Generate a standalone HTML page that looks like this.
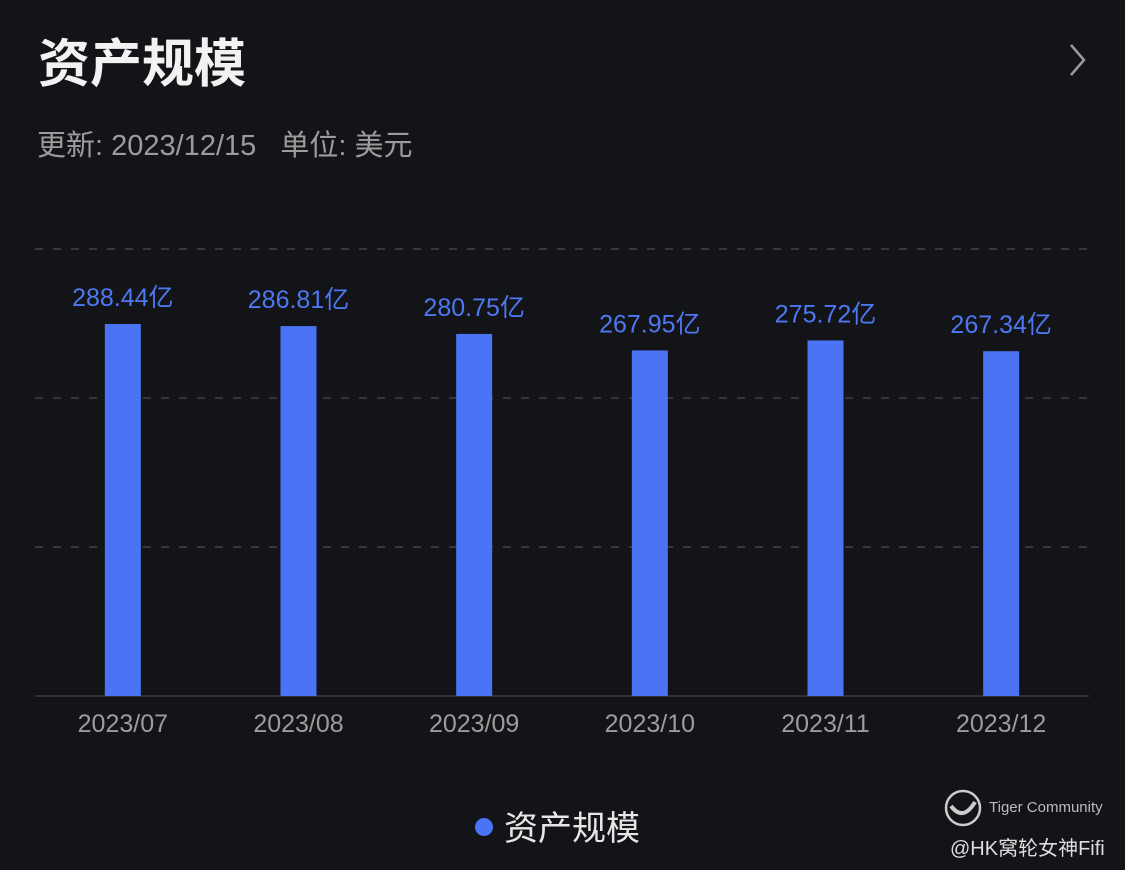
<!DOCTYPE html>
<html><head><meta charset="utf-8"><style>
body{margin:0;width:1125px;height:870px;background:#131417;overflow:hidden;font-family:"Liberation Sans","Noto Sans CJK SC",sans-serif;position:relative}
.t{position:absolute;color:#fff}
</style></head><body>
<div class="t" style="left:38px;top:22px;font-size:52px;font-weight:bold;color:#f2f2f2">资产规模</div>
<svg style="position:absolute;left:1066px;top:42px" width="24" height="36"><path d="M5 3 L18 18 L5 33" stroke="#9a9a9a" stroke-width="2.5" fill="none"/></svg>
<div class="t" style="left:37px;top:122px;font-size:29px;color:#9c9c9c">更新: 2023/12/15&nbsp;&nbsp;&nbsp;单位: 美元</div>
<svg id="chart" style="position:absolute;left:0;top:0" width="1125" height="870"></svg>
<div style="position:absolute;left:475px;top:801px;font-size:34px;color:#e6e6e6;font-family:'Liberation Sans','Noto Sans CJK SC',sans-serif"><span style="display:inline-block;width:18px;height:18px;border-radius:50%;background:#4a74f5;margin-right:11px;vertical-align:4px"></span>资产规模</div>
<svg style="position:absolute;left:943px;top:788px" width="40" height="40"><circle cx="20" cy="20" r="17" stroke="#ccc" stroke-width="2.5" fill="none"/><path d="M8 18 Q20 34 32 14" stroke="#ccc" stroke-width="4" fill="none"/></svg>
<div class="t" style="left:989px;top:799px;font-size:15px;color:#bbb">Tiger Community</div>
<div class="t" style="left:950px;top:832px;font-size:20px;color:#ddd">@HK窝轮女神Fifi</div>
<script>
const categories=["2023/07","2023/08","2023/09","2023/10","2023/11","2023/12"];
const values=[288.44,286.81,280.75,267.95,275.72,267.34];
const labels=["288.44亿","286.81亿","280.75亿","267.95亿","275.72亿","267.34亿"];
const yMax=346.6;
const svg=document.getElementById('chart');
const NS="http://www.w3.org/2000/svg";
const L=35,R=1089,B=696,T=249;
const bw=(R-L)/categories.length;
const y=v=>B-(v/yMax)*(B-T);
const x=i=>L+bw*(i+0.5);
function mk(t,a){const e=document.createElementNS(NS,t);for(const k in a)e.setAttribute(k,a[k]);svg.appendChild(e);return e;}
[0,1,2].forEach(g=>{const yy=T+g*(B-T)/3;const l=mk('line',{x1:L,x2:R,y1:yy,y2:yy,stroke:'#34363b','stroke-width':2,'stroke-dasharray':'8 10'});

});
const ax=mk('line',{x1:L,x2:R,y1:B,y2:B,stroke:'#3a3c41','stroke-width':1.5});


values.forEach((v,i)=>{
const r=mk('rect',{x:x(i)-18,y:y(v),width:36,height:B-y(v),fill:'#4a74f5'});


const t=mk('text',{x:x(i),y:y(v)-18,'text-anchor':'middle','font-size':25,fill:'#4d78f2','font-family':'Liberation Sans, Noto Sans CJK SC, sans-serif'});
t.textContent=labels[i];


const c=mk('text',{x:x(i),y:732,'text-anchor':'middle','font-size':25,fill:'#9c9c9c','font-family':'Liberation Sans, sans-serif'});
c.textContent=categories[i];


});
</script>
</body></html>
